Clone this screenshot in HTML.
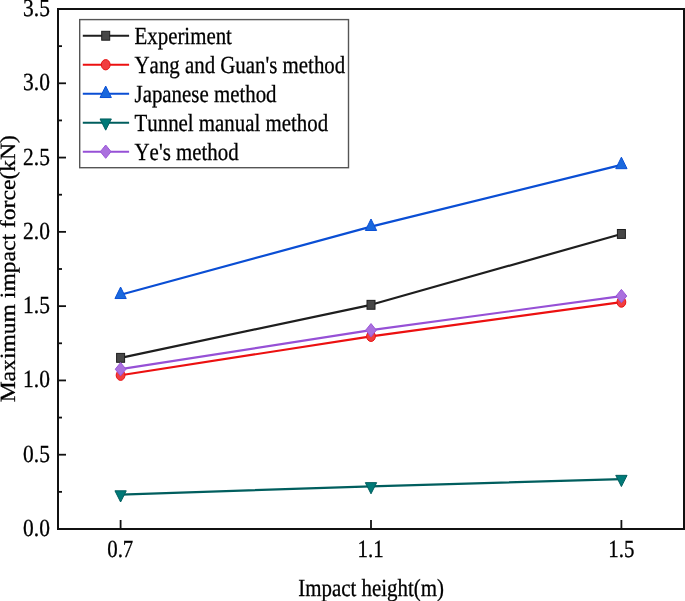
<!DOCTYPE html><html><head><meta charset="utf-8"><style>html,body{margin:0;padding:0;background:#fff;} text{filter:grayscale(1);}svg{display:block;}text{font-family:"Liberation Serif",serif;fill:#000;stroke:#000;stroke-width:0.3px;text-rendering:geometricPrecision;font-kerning:none;}</style></head><body>
<svg width="685" height="601" viewBox="0 0 685 601">
<rect width="685" height="601" fill="#fff"/>
<polyline points="120.60,357.85 371.00,304.81 621.40,233.94" fill="none" stroke="#1e1e1e" stroke-width="2.2" stroke-linejoin="round"/>
<rect x="116.60" y="353.40" width="8.00" height="8.90" fill="#474747" stroke="#1e1e1e" stroke-width="1"/>
<rect x="367.00" y="300.36" width="8.00" height="8.90" fill="#474747" stroke="#1e1e1e" stroke-width="1"/>
<rect x="617.40" y="229.49" width="8.00" height="8.90" fill="#474747" stroke="#1e1e1e" stroke-width="1"/>
<polyline points="120.60,375.23 371.00,336.30 621.40,302.06" fill="none" stroke="#ec1010" stroke-width="2.2" stroke-linejoin="round"/>
<ellipse cx="120.60" cy="375.23" rx="4.40" ry="5.15" fill="#f03e40" stroke="#e81212" stroke-width="1"/>
<ellipse cx="371.00" cy="336.30" rx="4.40" ry="5.15" fill="#f03e40" stroke="#e81212" stroke-width="1"/>
<ellipse cx="621.40" cy="302.06" rx="4.40" ry="5.15" fill="#f03e40" stroke="#e81212" stroke-width="1"/>
<polyline points="120.60,294.70 371.00,226.66 621.40,164.85" fill="none" stroke="#0a4ed4" stroke-width="2.2" stroke-linejoin="round"/>
<polygon points="120.60,287.04 126.25,298.54 114.95,298.54" fill="#1a68dd" stroke="#0a50d6" stroke-width="1" stroke-linejoin="round"/>
<polygon points="371.00,218.99 376.65,230.49 365.35,230.49" fill="#1a68dd" stroke="#0a50d6" stroke-width="1" stroke-linejoin="round"/>
<polygon points="621.40,157.18 627.05,168.68 615.75,168.68" fill="#1a68dd" stroke="#0a50d6" stroke-width="1" stroke-linejoin="round"/>
<polyline points="120.60,494.53 371.00,486.36 621.40,479.08" fill="none" stroke="#005e5e" stroke-width="2.2" stroke-linejoin="round"/>
<polygon points="114.95,490.80 126.25,490.80 120.60,502.00" fill="#007a78" stroke="#005e5e" stroke-width="1" stroke-linejoin="round"/>
<polygon points="365.35,482.63 376.65,482.63 371.00,493.83" fill="#007a78" stroke="#005e5e" stroke-width="1" stroke-linejoin="round"/>
<polygon points="615.75,475.35 627.05,475.35 621.40,486.55" fill="#007a78" stroke="#005e5e" stroke-width="1" stroke-linejoin="round"/>
<polyline points="120.60,369.21 371.00,330.21 621.40,296.04" fill="none" stroke="#9650d6" stroke-width="2.2" stroke-linejoin="round"/>
<polygon points="120.60,362.56 125.95,369.21 120.60,375.86 115.25,369.21" fill="#aa70de" stroke="#9a56d8" stroke-width="1" stroke-linejoin="round"/>
<polygon points="371.00,323.56 376.35,330.21 371.00,336.86 365.65,330.21" fill="#aa70de" stroke="#9a56d8" stroke-width="1" stroke-linejoin="round"/>
<polygon points="621.40,289.39 626.75,296.04 621.40,302.69 616.05,296.04" fill="#aa70de" stroke="#9a56d8" stroke-width="1" stroke-linejoin="round"/>
<rect x="58.0" y="9.0" width="626.0" height="520.0" fill="none" stroke="#111" stroke-width="2"/>
<line x1="58.0" y1="491.86" x2="62.0" y2="491.86" stroke="#111" stroke-width="1.8"/>
<line x1="58.0" y1="454.71" x2="66.0" y2="454.71" stroke="#111" stroke-width="1.8"/>
<line x1="58.0" y1="417.57" x2="62.0" y2="417.57" stroke="#111" stroke-width="1.8"/>
<line x1="58.0" y1="380.43" x2="66.0" y2="380.43" stroke="#111" stroke-width="1.8"/>
<line x1="58.0" y1="343.29" x2="62.0" y2="343.29" stroke="#111" stroke-width="1.8"/>
<line x1="58.0" y1="306.14" x2="66.0" y2="306.14" stroke="#111" stroke-width="1.8"/>
<line x1="58.0" y1="269.00" x2="62.0" y2="269.00" stroke="#111" stroke-width="1.8"/>
<line x1="58.0" y1="231.86" x2="66.0" y2="231.86" stroke="#111" stroke-width="1.8"/>
<line x1="58.0" y1="194.71" x2="62.0" y2="194.71" stroke="#111" stroke-width="1.8"/>
<line x1="58.0" y1="157.57" x2="66.0" y2="157.57" stroke="#111" stroke-width="1.8"/>
<line x1="58.0" y1="120.43" x2="62.0" y2="120.43" stroke="#111" stroke-width="1.8"/>
<line x1="58.0" y1="83.29" x2="66.0" y2="83.29" stroke="#111" stroke-width="1.8"/>
<line x1="58.0" y1="46.14" x2="62.0" y2="46.14" stroke="#111" stroke-width="1.8"/>
<line x1="120.60" y1="529.0" x2="120.60" y2="520.0" stroke="#111" stroke-width="1.8"/>
<line x1="371.00" y1="529.0" x2="371.00" y2="520.0" stroke="#111" stroke-width="1.8"/>
<line x1="621.40" y1="529.0" x2="621.40" y2="520.0" stroke="#111" stroke-width="1.8"/>
<text x="0" y="0" font-size="24.6" transform="translate(23.09,536.00) scale(0.872,1)">0.0</text>
<text x="0" y="0" font-size="24.6" transform="translate(23.09,461.71) scale(0.872,1)">0.5</text>
<text x="0" y="0" font-size="24.6" transform="translate(23.09,387.42) scale(0.872,1)">1.0</text>
<text x="0" y="0" font-size="24.6" transform="translate(23.09,313.08) scale(0.872,1)">1.5</text>
<text x="0" y="0" font-size="24.6" transform="translate(23.09,238.85) scale(0.872,1)">2.0</text>
<text x="0" y="0" font-size="24.6" transform="translate(23.09,164.50) scale(0.872,1)">2.5</text>
<text x="0" y="0" font-size="24.6" transform="translate(23.09,90.28) scale(0.872,1)">3.0</text>
<text x="0" y="0" font-size="24.6" transform="translate(23.09,15.93) scale(0.872,1)">3.5</text>
<text x="0" y="0" font-size="24.6" transform="translate(107.18,557.00) scale(0.8500,1)">0.7</text>
<text x="0" y="0" font-size="24.6" transform="translate(357.62,557.00) scale(0.8500,1)">1.1</text>
<text x="0" y="0" font-size="24.6" transform="translate(608.36,557.00) scale(0.8500,1)">1.5</text>
<text x="0" y="0" font-size="24.6" transform="translate(298.17,596.0) scale(0.8508,1)">Impact height(m)</text>
<text x="0" y="0" font-size="23.6" text-anchor="middle" transform="translate(15,268.7) rotate(-90) scale(1,0.92)">Maximum impact force(kN)</text>
<rect x="79.7" y="19.6" width="268.8" height="148.1" fill="#fff" stroke="#555" stroke-width="1.4"/>
<line x1="82.8" y1="35.75" x2="129.1" y2="35.75" stroke="#1e1e1e" stroke-width="2"/>
<rect x="101.70" y="31.30" width="8.00" height="8.90" fill="#474747" stroke="#1e1e1e" stroke-width="1"/>
<text x="0" y="0" font-size="24.6" transform="translate(134.55,43.90) scale(0.8484,1)">Experiment</text>
<line x1="82.8" y1="64.73" x2="129.1" y2="64.73" stroke="#ec1010" stroke-width="2"/>
<ellipse cx="105.70" cy="64.73" rx="4.40" ry="5.15" fill="#f03e40" stroke="#e81212" stroke-width="1"/>
<text x="0" y="0" font-size="24.6" transform="translate(134.55,72.83) scale(0.8484,1)">Yang and Guan's method</text>
<line x1="82.8" y1="93.71" x2="129.1" y2="93.71" stroke="#0a4ed4" stroke-width="2"/>
<polygon points="105.70,86.04 111.35,97.54 100.05,97.54" fill="#1a68dd" stroke="#0a50d6" stroke-width="1" stroke-linejoin="round"/>
<text x="0" y="0" font-size="24.6" transform="translate(134.55,101.76) scale(0.8484,1)">Japanese method</text>
<line x1="82.8" y1="122.69" x2="129.1" y2="122.69" stroke="#005e5e" stroke-width="2"/>
<polygon points="100.05,118.96 111.35,118.96 105.70,130.16" fill="#007a78" stroke="#005e5e" stroke-width="1" stroke-linejoin="round"/>
<text x="0" y="0" font-size="24.6" transform="translate(134.55,130.69) scale(0.8484,1)">Tunnel manual method</text>
<line x1="82.8" y1="151.67" x2="129.1" y2="151.67" stroke="#9650d6" stroke-width="2"/>
<polygon points="105.70,145.02 111.05,151.67 105.70,158.32 100.35,151.67" fill="#aa70de" stroke="#9a56d8" stroke-width="1" stroke-linejoin="round"/>
<text x="0" y="0" font-size="24.6" transform="translate(134.55,159.62) scale(0.8484,1)">Ye's method</text>
</svg></body></html>
